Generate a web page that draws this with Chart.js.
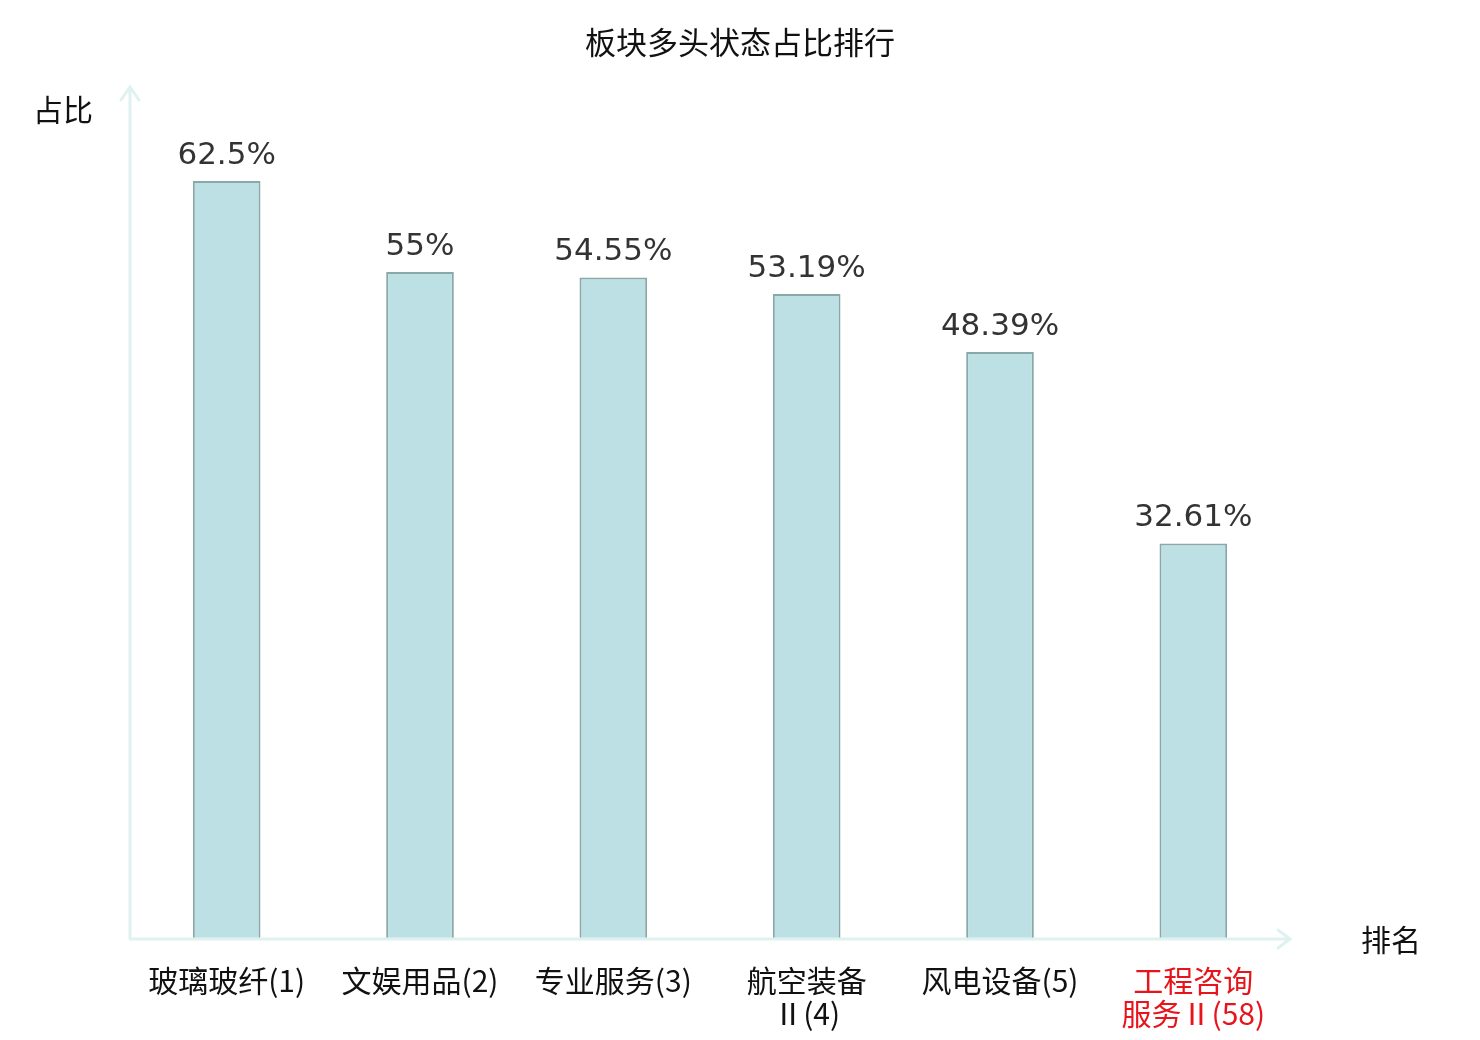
<!DOCTYPE html>
<html>
<head>
<meta charset="utf-8">
<script src="https://cdn.jsdelivr.net/npm/chart.js@4.4.1/dist/chart.umd.min.js"></script>
<style>
  html, body { margin: 0; padding: 0; background: #fff; }
  #wrap { width: 1480px; height: 1040px; }
</style>
</head>
<body>
<div id="wrap"><canvas id="chart"></canvas></div>
<script>
// data
const categories = [
    ['玻璃玻纤(1)'],
    ['文娱用品(2)'],
    ['专业服务(3)'],
    ['航空装备', 'Ⅱ(4)'],
    ['风电设备(5)'],
    ['工程咨询', '服务Ⅱ(58)']
];
const shares = [62.5, 55, 54.55, 53.19, 48.39, 32.61];
const highlight = [false, false, false, false, false, true];

const axisColor = '#dff2ef';

// axes with arrows, title and axis names
const decorPlugin = {
    id: 'decor',
    afterDraw(chart) {
        const ctx = chart.ctx;
        const a = chart.chartArea;
        ctx.save();
        ctx.strokeStyle = axisColor;
        ctx.lineWidth = 3;
        ctx.lineCap = 'round';
        ctx.beginPath();
        ctx.moveTo(a.left, a.bottom);
        ctx.lineTo(a.left, a.top - 3);
        ctx.moveTo(a.left - 9, a.top + 10);
        ctx.lineTo(a.left, a.top - 3);
        ctx.lineTo(a.left + 9, a.top + 10);
        ctx.moveTo(a.left, a.bottom);
        ctx.lineTo(a.right, a.bottom);
        ctx.moveTo(a.right - 12, a.bottom - 9);
        ctx.lineTo(a.right, a.bottom);
        ctx.lineTo(a.right - 12, a.bottom + 9);
        ctx.stroke();

        ctx.fillStyle = '#111';
        ctx.font = '31px "Noto Sans CJK SC"';
        ctx.textAlign = 'center';
        ctx.textBaseline = 'middle';
        ctx.fillText('板块多头状态占比排行', 740, 42);
        ctx.font = '30px "Noto Sans CJK SC"';
        ctx.fillText('占比', 63, 110);
        ctx.fillText('排名', 1391, 940);

        // value labels
        const meta = chart.getDatasetMeta(0);
        ctx.fillStyle = '#333';
        ctx.font = '31px "DejaVu Sans"';
        ctx.textBaseline = 'alphabetic';
        meta.data.forEach((bar, i) => {
            ctx.fillText(shares[i] + '%', bar.x, bar.y - 17);
        });
        ctx.restore();
    }
};

new Chart(document.getElementById('chart').getContext('2d'), {
    type: 'bar',
    data: {
        labels: categories,
        datasets: [{
            data: shares,
            backgroundColor: '#bce0e3',
            borderColor: '#8aa8a8',
            borderWidth: 2,
            borderSkipped: 'bottom',
            categoryPercentage: 1,
            barPercentage: 0.35
        }]
    },
    options: {
        responsive: true,
        maintainAspectRatio: false,
        animation: false,
        layout: { padding: { left: 130, right: 190, top: 90, bottom: 0 } },
        plugins: {
            legend: { display: false },
            tooltip: { enabled: false }
        },
        scales: {
            x: {
                grid: { display: false, drawTicks: false },
                border: { display: false },
                afterFit(scale) { scale.height = 101; },
                ticks: {
                    padding: 26,
                    maxRotation: 0,
                    autoSkip: false,
                    font: { family: '"DejaVu Sans ExtraLight", "Noto Sans CJK SC"', size: 30, lineHeight: 1.07 },
                    color: (c) => highlight[c.index] ? '#e8141b' : '#111'
                }
            },
            y: {
                display: false,
                min: 0,
                max: 70
            }
        }
    },
    plugins: [decorPlugin]
});
</script>
</body>
</html>
